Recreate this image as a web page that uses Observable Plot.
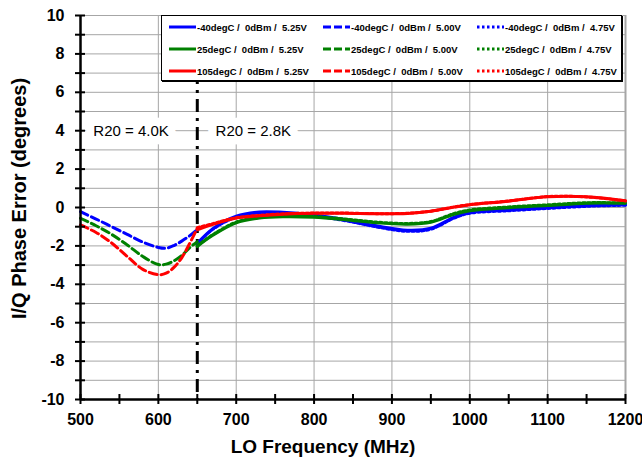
<!DOCTYPE html>
<html>
<head>
<meta charset="utf-8">
<script src="https://cdn.jsdelivr.net/npm/d3@7"></script>
<script src="https://cdn.jsdelivr.net/npm/@observablehq/plot@0.6"></script>
<style>
  body { margin: 0; background: #fff; }
  #wrap { position: relative; width: 642px; height: 463px; font-family: "Liberation Sans", Arial, sans-serif; }
  #legend { position: absolute; left: 161px; top: 15px; width: 459px; height: 64px; background: #fff;
            border: 1px solid #000; box-shadow: 1px 1px 0 #000; }
  .item { position: absolute; height: 12px; display: flex; align-items: center; }
  .item span { font-size: 9.5px; font-weight: bold; white-space: pre; margin-left: 1px; color: #000; }
</style>
</head>
<body>
<div id="wrap"><div id="chart"></div><div id="legend"></div></div>
<script>
// ---- data ----
const temps = ["-40degC", "25degC", "105degC"];
const colors = ["#0000ff", "#008000", "#ff0000"];
const volts = ["5.25V", "5.00V", "4.75V"];
const dashes = [null, "8,4", "2.5,2.5"];

// 5.00V (R20 = 4.0K) region
const fDashed = [500, 520, 540, 560, 580, 600, 610, 620, 630, 640, 650];
const blue500 = [-0.22, -0.60, -1.00, -1.40, -1.80, -2.08, -2.12, -1.98, -1.75, -1.48, -1.15];
const green500 = [-0.56, -0.95, -1.40, -1.95, -2.55, -2.97, -2.95, -2.78, -2.50, -2.10, -1.78];
const red500 = [-0.91, -1.30, -1.85, -2.55, -3.22, -3.50, -3.42, -3.12, -2.62, -1.89, -1.08];

// 5.25V / 4.75V (R20 = 2.8K) region
const fSolid = [650, 670, 700, 730, 760, 800, 840, 880, 920, 950, 980, 1000, 1050, 1100, 1150, 1200];
const blue525 = [-1.86, -1.10, -0.45, -0.23, -0.25, -0.39, -0.63, -0.95, -1.18, -1.08, -0.50, -0.25, -0.12, 0.00, 0.10, 0.14];
const blue475 = [-1.90, -1.14, -0.50, -0.28, -0.30, -0.44, -0.69, -1.01, -1.24, -1.13, -0.55, -0.30, -0.17, -0.05, 0.06, 0.12];
const green525 = [-2.03, -1.45, -0.80, -0.55, -0.48, -0.51, -0.64, -0.80, -0.87, -0.77, -0.35, -0.17, -0.01, 0.10, 0.22, 0.22];
const green475 = [-1.99, -1.41, -0.76, -0.51, -0.44, -0.47, -0.60, -0.76, -0.83, -0.73, -0.31, -0.13, 0.03, 0.14, 0.25, 0.24];
const red525 = [-1.17, -0.88, -0.55, -0.43, -0.35, -0.30, -0.30, -0.33, -0.31, -0.20, 0.02, 0.14, 0.33, 0.56, 0.56, 0.35];
const red475 = [-1.05, -0.84, -0.53, -0.41, -0.33, -0.29, -0.29, -0.32, -0.30, -0.19, 0.03, 0.15, 0.34, 0.57, 0.55, 0.34];

const xTickLabels = [500, 600, 700, 800, 900, 1000, 1100, 1200];
const xMinorTicks = [500, 550, 600, 650, 700, 750, 800, 850, 900, 950, 1000, 1050, 1100, 1150, 1200];
const yTickLabels = [-10, -8, -6, -4, -2, 0, 2, 4, 6, 8, 10];
const yMinorTicks = d3.range(-10, 11, 1);
const boundary = [650];
const notes = [{f: 565, v: 4, text: "R20 = 4.0K"}, {f: 722, v: 4, text: "R20 = 2.8K"}];
const xTitle = "LO Frequency (MHz)";
const yTitle = "I/Q Phase Error (degrees)";

// ---- table ----
const seriesDefs = [
  {t: 0, vI: 0, f: fSolid, v: blue525}, {t: 0, vI: 1, f: fDashed, v: blue500}, {t: 0, vI: 2, f: fSolid, v: blue475},
  {t: 1, vI: 0, f: fSolid, v: green525}, {t: 1, vI: 1, f: fDashed, v: green500}, {t: 1, vI: 2, f: fSolid, v: green475},
  {t: 2, vI: 0, f: fSolid, v: red525}, {t: 2, vI: 1, f: fDashed, v: red500}, {t: 2, vI: 2, f: fSolid, v: red475}
];
const lineMarks = seriesDefs.map(s => Plot.line(s.f.map((f, i) => ({f, v: s.v[i]})), {
  x: "f", y: "v", stroke: colors[s.t], strokeWidth: 3,
  strokeDasharray: dashes[s.vI] || undefined, curve: "catmull-rom"
}));

const grid = "#a6a6a6";
const chart = Plot.plot({
  width: 642, height: 463,
  marginLeft: 80, marginRight: 17, marginTop: 15, marginBottom: 64,
  x: {domain: [500, 1200], axis: null},
  y: {domain: [-10, 10], axis: null},
  style: {fontFamily: "'Liberation Sans', Arial, sans-serif", background: "white", overflow: "visible"},
  marks: [
    Plot.ruleY(yMinorTicks, {stroke: grid, strokeWidth: 1}),
    Plot.ruleX(xTickLabels, {stroke: grid, strokeWidth: d => d === 1200 ? 2 : 1}),
    Plot.text(notes, {x: "f", y: "v", text: "text", fontSize: 15, fill: "#000",
      stroke: "#fff", strokeWidth: 17, strokeLinejoin: "round", paintOrder: "stroke"}),
    Plot.ruleX(boundary, {stroke: "#000", strokeWidth: 3, strokeDasharray: "13,6,3,6"}),
    ...lineMarks,
    Plot.ruleX([500], {stroke: "#000", strokeWidth: 2.5}),
    Plot.ruleY([-10], {stroke: "#000", strokeWidth: 2.5}),
    Plot.ruleY(yMinorTicks, {x1: 500, x2: 500, insetLeft: -5, insetRight: -5, stroke: "#000", strokeWidth: 2}),
    Plot.ruleX(xMinorTicks, {y1: -10, y2: -10, insetTop: -5, insetBottom: -5, stroke: "#000", strokeWidth: 2}),
    Plot.text(yTickLabels, {x: 500, y: d => d, text: d => String(d), textAnchor: "end", dx: -16,
      fontSize: 16, fontWeight: "bold", fill: "#000"}),
    Plot.text(xTickLabels, {x: d => d, y: -10, text: d => String(d), dy: 20,
      fontSize: 16, fontWeight: "bold", fill: "#000"}),
    Plot.text([xTitle], {frameAnchor: "bottom", dy: 53, dx: -30, fontSize: 19, fontWeight: "bold", fill: "#000"}),
    Plot.text([yTitle], {frameAnchor: "left", textAnchor: "middle", lineAnchor: "middle", rotate: -90,
      dx: -61, dy: -9, fontSize: 20, fontWeight: "bold", fill: "#000"})
  ]
});
document.getElementById("chart").appendChild(chart);

// ---- legend ----
const legend = document.getElementById("legend");
volts.forEach((vl, c) => {
  temps.forEach((tp, r) => {
    const it = document.createElement("div");
    it.className = "item";
    it.style.left = (7 + c * 154) + "px";
    it.style.top = (5 + r * 22) + "px";
    const dash = dashes[c] ? `stroke-dasharray="${c === 1 ? "8,3" : "2.5,2.5"}"` : "";
    it.innerHTML = `<svg width="27" height="6"><line x1="0" x2="27" y1="3" y2="3" stroke="${colors[r]}" stroke-width="3" ${dash}/></svg><span>${tp} /  0dBm /  ${vl}</span>`;
    legend.appendChild(it);
  });
});
</script>
</body>
</html>
